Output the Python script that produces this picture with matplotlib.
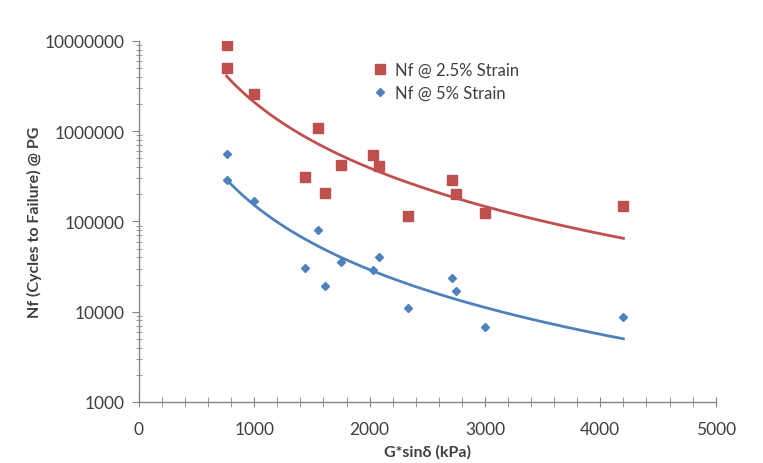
import numpy as np
import matplotlib
matplotlib.use("Agg")
import matplotlib.pyplot as plt
from matplotlib.ticker import MultipleLocator, LogLocator, FixedLocator, FuncFormatter

plt.rcParams['font.family'] = ['Lato', 'DejaVu Sans']

# G*sin(delta) (kPa)
g_sin_d = [760, 760, 1000, 1550, 1440, 1610, 1750, 2030, 2080, 2330, 2710, 2750, 3000, 4200]
# Nf @ 2.5% strain
nf_25 = [9.0e6, 5.0e6, 2.6e6, 1.08e6, 3.1e5, 2.07e5, 4.2e5, 5.5e5, 4.1e5, 1.15e5, 2.85e5, 2.02e5, 1.25e5, 1.48e5]
# Nf @ 5% strain
g_sin_d_5 = [760, 760, 1000, 1550, 1440, 1610, 1750, 2030, 2080, 2330, 2710, 2750, 3000, 4200]
nf_5 = [5.6e5, 2.9e5, 1.7e5, 8.1e4, 3.05e4, 1.95e4, 3.6e4, 2.9e4, 4.0e4, 1.1e4, 2.35e4, 1.7e4, 6.8e3, 8.7e3]

etiquetas_series = ["Nf @ 2.5% Strain", "Nf @ 5% Strain"]

rojo = '#C0504D'
azul = '#4F81BD'
gris = '#404040'


def ajuste_potencia(x, y):
    # Línea de tendencia tipo Excel: y = a * x^b (ajuste en log-log)
    b, log_a = np.polyfit(np.log(x), np.log(y), 1)
    xs = np.linspace(min(x), max(x), 200)
    return xs, np.exp(log_a) * xs ** b


fig = plt.figure(figsize=(7.63, 4.64), dpi=100, facecolor='white')
ax = fig.add_axes([0.182, 0.1315, 0.756, 0.778])

ax.plot(g_sin_d, nf_25, linestyle='none', marker='s', markersize=7,
        color=rojo, label=etiquetas_series[0])
ax.plot(g_sin_d_5, nf_5, linestyle='none', marker='D', markersize=4.5,
        color=azul, label=etiquetas_series[1])

xs, ys = ajuste_potencia(g_sin_d, nf_25)
ax.plot(xs, ys, color=rojo, linewidth=2)
xs, ys = ajuste_potencia(g_sin_d_5, nf_5)
ax.plot(xs, ys, color=azul, linewidth=2)

ax.set_yscale('log')
ax.set_ylim(1000, 1e7)
ax.set_xlim(0, 5000)

ax.xaxis.set_major_locator(MultipleLocator(1000))
ax.xaxis.set_minor_locator(MultipleLocator(200))
ax.yaxis.set_major_locator(FixedLocator([1e3, 1e4, 1e5, 1e6, 1e7]))
ax.yaxis.set_minor_locator(LogLocator(base=10, subs=np.arange(2, 10)))
ax.yaxis.set_major_formatter(FuncFormatter(lambda v, p: f"{int(round(v))}"))

for lado in ['top', 'right']:
    ax.spines[lado].set_visible(False)
for lado in ['left', 'bottom']:
    ax.spines[lado].set_color('#868686')
    ax.spines[lado].set_linewidth(1)

ax.tick_params(axis='x', which='both', direction='inout', length=7, color='#868686',
               labelsize=12.5, labelcolor=gris, pad=10)
ax.tick_params(axis='y', which='major', direction='out', length=5, color='#868686',
               labelsize=12.5, labelcolor=gris, pad=5)
ax.tick_params(axis='y', which='minor', direction='inout', length=5, color='#868686')

ax.set_xlabel("G*sinδ (kPa)", fontsize=11.5, fontweight='bold', color=gris, labelpad=5)
ax.set_ylabel("Nf (Cycles to Failure) @ PG", fontsize=11.5, fontweight='bold', color=gris, labelpad=2)

ax.legend(loc='upper left', bbox_to_anchor=(0.38, 0.985), frameon=False,
          fontsize=12, handlelength=0.8, handletextpad=0.5, labelspacing=0.45,
          labelcolor=gris)

plt.savefig("out.png", dpi=100)
